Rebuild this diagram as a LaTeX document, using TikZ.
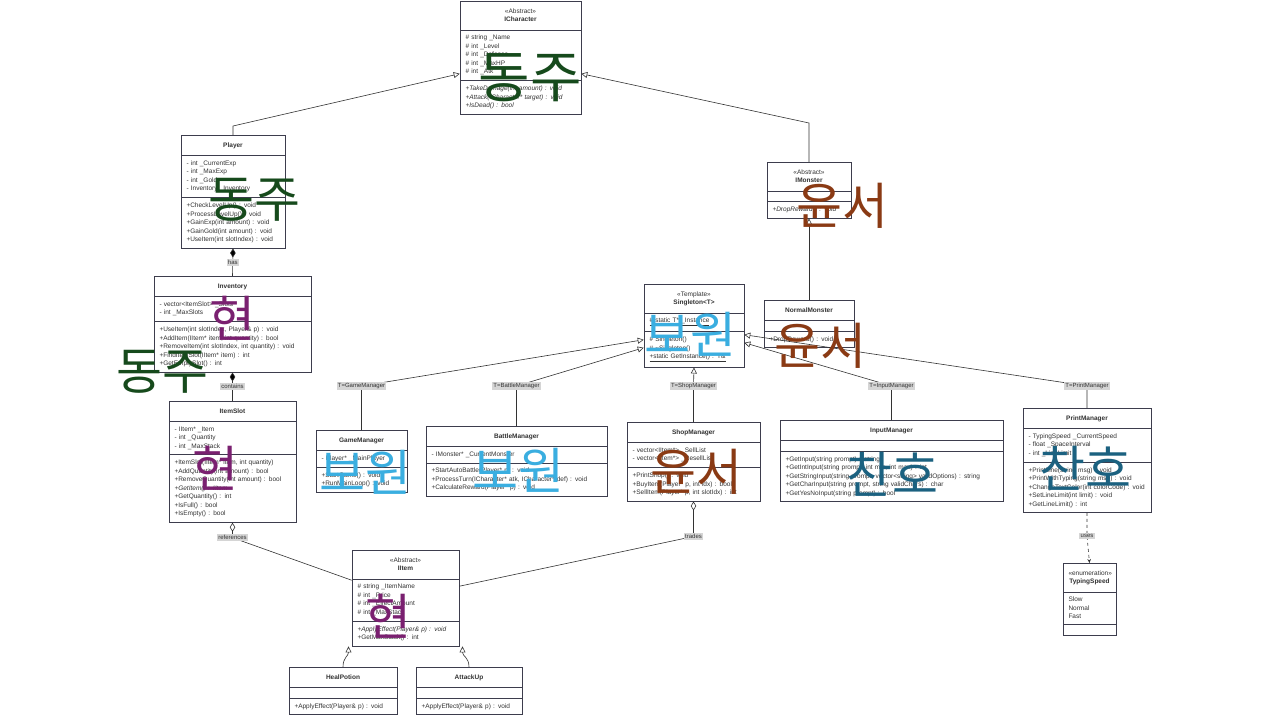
\documentclass[tikz,border=0pt]{standalone}
\usepackage{fontspec}
\setmainfont{Liberation Sans}
\newfontfamily\krfont{Noto Sans CJK KR}
\usetikzlibrary{arrows.meta, shapes.multipart}

\definecolor{boxline}{HTML}{3D3D4D}
\definecolor{edgeline}{HTML}{333333}
\definecolor{labelbg}{HTML}{D5D5D5}
\definecolor{txtcol}{HTML}{333333}
\definecolor{dongju}{HTML}{164A1C}
\definecolor{hyeon}{HTML}{7A2070}
\definecolor{yunseo}{HTML}{8A3A14}
\definecolor{bowon}{HTML}{3AAEE0}
\definecolor{chanho}{HTML}{1B6180}

\newcommand{\clsfont}{\fontsize{6.5}{8.5}\selectfont}
\newcommand{\clsname}[1]{\textbf{#1}\rule[-3pt]{0pt}{9.5pt}\par}
\newcommand{\stype}[1]{\rule{0pt}{6.5pt}«#1»}

\begin{document}
\begin{tikzpicture}[x=1pt, y=-1pt,
  cls/.style={draw=boxline, fill=white, line width=0.6pt, rectangle split,
    rectangle split parts=3, inner xsep=5.5pt, inner ysep=5pt,
    font=\clsfont, text=txtcol, anchor=north},
  elabel/.style={fill=labelbg, text=txtcol, inner sep=1.2pt,
    font=\fontsize{6}{7}\selectfont},
  link/.style={draw=edgeline, line width=0.6pt},
  inherit/.style={link, -{Triangle[open, length=6pt, width=6pt]}},
  comp/.style={link, {Diamond[length=9pt, width=5.5pt]}-},
  aggr/.style={link, {Diamond[open, length=9pt, width=5.5pt]}-},
  uses/.style={link, dashed, -{Stealth[length=4pt, width=3.5pt]}},
  korean/.style={font=\krfont\fontsize{50}{50}\selectfont, inner sep=0pt}]
  \fill[white] (0,0) rectangle (1280,717);
  \useasboundingbox (0,0) rectangle (1280,717);

  % classes
  \node[cls, text width=110pt] (icharacter) at (520.5,1)
    {\centering\stype{Abstract}\\\clsname{ICharacter}
     \nodepart{two}\# string \_Name\\\# int \_Level\\\# int \_Defense\\\# int \_MaxHP\\\# int \_Atk
     \nodepart{three}\textit{+TakeDamage(int amount) : void}\\\textit{+Attack(ICharacter* target) : void}\\\textit{+IsDead() : bool}};
  \node[cls, text width=93pt] (player) at (233,135)
    {\centering\clsname{Player}
     \nodepart{two}- int \_CurrentExp\\- int \_MaxExp\\- int \_Gold\\- Inventory \_Inventory
     \nodepart{three}+CheckLevelUp() : void\\+ProcessLevelUp() : void\\+GainExp(int amount) : void\\+GainGold(int amount) : void\\+UseItem(int slotIndex) : void};
  \node[cls, text width=146pt] (inventory) at (232.5,276)
    {\centering\clsname{Inventory}
     \nodepart{two}- vector<ItemSlot> \_Slots\\- int \_MaxSlots
     \nodepart{three}+UseItem(int slotIndex, Player\& p) : void\\+AddItem(IItem* item, int quantity) : bool\\+RemoveItem(int slotIndex, int quantity) : void\\+FindItemSlot(IItem* item) : int\\+GetEmptySlot() : int};
  \node[cls, text width=116pt] (itemslot) at (232.5,401)
    {\centering\clsname{ItemSlot}
     \nodepart{two}- IItem* \_Item\\- int \_Quantity\\- int \_MaxStack
     \nodepart{three}+ItemSlot(IItem* item, int quantity)\\+AddQuantity(int amount) : bool\\+RemoveQuantity(int amount) : bool\\\textit{+GetItem() : IItem}\\+GetQuantity() : int\\+IsFull() : bool\\+IsEmpty() : bool};
  \node[cls, text width=96pt] (iitem) at (405.5,550)
    {\centering\stype{Abstract}\\\clsname{IItem}
     \nodepart{two}\# string \_ItemName\\\# int \_Price\\\# int \_EffectAmount\\\# int \_MaxStack
     \nodepart{three}\textit{+ApplyEffect(Player\& p) : void}\\+GetMaxStack() : int};
  \node[cls, text width=97pt] (healpotion) at (343,667)
    {\centering\clsname{HealPotion}
     \nodepart{two}
     \nodepart{three}+ApplyEffect(Player\& p) : void};
  \node[cls, text width=95pt] (attackup) at (469,667)
    {\centering\clsname{AttackUp}
     \nodepart{two}
     \nodepart{three}+ApplyEffect(Player\& p) : void};
  \node[cls, text width=73pt] (imonster) at (809,162)
    {\centering\stype{Abstract}\\\clsname{IMonster}
     \nodepart{two}
     \nodepart{three}\textit{+DropReward() : void}};
  \node[cls, text width=79pt] (normalmonster) at (809,300)
    {\centering\clsname{NormalMonster}
     \nodepart{two}
     \nodepart{three}+DropReward() : void};
  \node[cls, text width=89pt] (singleton) at (694,284)
    {\centering\stype{Template}\\\clsname{Singleton<T>}
     \nodepart{two}\underline{\# static T* \_Instance}
     \nodepart{three}\# Singleton()\\\# \textasciitilde Singleton()\\\underline{+static GetInstance() : T\&}};
  \node[cls, text width=80pt] (gamemanager) at (361.5,430)
    {\centering\clsname{GameManager}
     \nodepart{two}- Player* \_MainPlayer
     \nodepart{three}+StartGame() : void\\+RunMainLoop() : void};
  \node[cls, text width=170pt] (battlemanager) at (516.5,426)
    {\centering\clsname{BattleManager}
     \nodepart{two}- IMonster* \_CurrentMonster
     \nodepart{three}+StartAutoBattle(Player* p) : void\\+ProcessTurn(ICharacter* atk, ICharacter* def) : void\\+CalculateReward(Player* p) : void};
  \node[cls, text width=122pt] (shopmanager) at (693.5,422)
    {\centering\clsname{ShopManager}
     \nodepart{two}- vector<IItem*> \_SellList\\- vector<IItem*> \_ResellList
     \nodepart{three}+PrintShop() : void\\+BuyItem(Player* p, int idx) : bool\\+SellItem(Player* p, int slotIdx) : int};
  \node[cls, text width=212pt] (inputmanager) at (891.5,420)
    {\centering\clsname{InputManager}
     \nodepart{two}
     \nodepart{three}+GetInput(string prompt) : string\\+GetIntInput(string prompt, int min, int max) : int\\+GetStringInput(string prompt, vector<string> validOptions) : string\\+GetCharInput(string prompt, string validChars) : char\\+GetYesNoInput(string prompt) : bool};
  \node[cls, text width=117pt] (printmanager) at (1087,408)
    {\centering\clsname{PrintManager}
     \nodepart{two}- TypingSpeed \_CurrentSpeed\\- float \_SpaceInterval\\- int \_LineLimit
     \nodepart{three}+PrintLine(string msg) : void\\+PrintWithTyping(string msg) : void\\+ChangeTextColor(int colorCode) : void\\+SetLineLimit(int limit) : void\\+GetLineLimit() : int};
  \node[cls, text width=42pt] (typingspeed) at (1089.5,563)
    {\centering\stype{enumeration}\\\clsname{TypingSpeed}
     \nodepart{two}Slow\\Normal\\Fast
     \nodepart{three}};

  % relations
  \draw[inherit] (player.north) -- ++(0,-9) -- ([yshift=-16pt]icharacter.west);
  \draw[inherit] (imonster.north) -- ++(0,-39) -- ([yshift=-16pt]icharacter.east);
  \draw[inherit] (normalmonster.north) -- (imonster.south);
  \draw[comp] (player.south) -- (inventory.north) node[midway, elabel] (lblhas) {has};
  \draw[comp] (inventory.south) -- (itemslot.north) node[midway, elabel] (lblcontains) {contains};
  \draw[aggr] (itemslot.south) -- ++(0,15) node[elabel] (lblrefs) {references} -- ([yshift=18pt]iitem.west);
  \draw[aggr] (shopmanager.south) -- ++(0,35) node[elabel] (lbltrades) {trades} -- ([yshift=12pt]iitem.east);
  \draw[inherit] (healpotion.north) .. controls +(0,-10) and +(0,10) .. ([xshift=-57pt]iitem.south);
  \draw[inherit] (attackup.north) .. controls +(0,-10) and +(0,10) .. ([xshift=57pt]iitem.south);
  \draw[inherit] (gamemanager.north) -- ++(0,-44) node[elabel] (lblgame) {T=GameManager} -- ([yshift=-14pt]singleton.west);
  \draw[inherit] (battlemanager.north) -- ++(0,-40) node[elabel] (lblbattle) {T=BattleManager} -- ([yshift=-22pt]singleton.west);
  \draw[inherit] (shopmanager.north) -- ++(0,-36) node[elabel] (lblshop) {T=ShopManager} -- (singleton.south);
  \draw[inherit] (inputmanager.north) -- ++(0,-34) node[elabel] (lblinput) {T=InputManager} -- ([yshift=-17pt]singleton.east);
  \draw[inherit] (printmanager.north) -- ++(0,-22) node[elabel] (lblprint) {T=PrintManager} -- ([yshift=-9pt]singleton.east);
  \draw[uses] (printmanager.south) -- ++(0,23) node[elabel] (lbluses) {uses} -- (typingspeed.north);

  % names written over the diagram
  \node[korean, text=dongju, font=\krfont\fontsize{56}{56}\selectfont] (dongjuA) at (530,78) {동주};
  \node[korean, text=dongju] (dongjuB) at (254,200) {동주};
  \node[korean, text=hyeon] (hyeonA) at (232,318) {현};
  \node[korean, text=dongju] (dongjuC) at (162,372) {동주};
  \node[korean, text=hyeon] (hyeonB) at (215,468) {현};
  \node[korean, text=hyeon] (hyeonC) at (388,616) {현};
  \node[korean, text=yunseo] (yunseoA) at (842,206) {윤서};
  \node[korean, text=yunseo] (yunseoB) at (820,346) {윤서};
  \node[korean, text=yunseo] (yunseoC) at (696,472) {윤서};
  \node[korean, text=bowon] (bowonA) at (690,334) {보원};
  \node[korean, text=bowon] (bowonB) at (365,472) {보원};
  \node[korean, text=bowon] (bowonC) at (518,470) {보원};
  \node[korean, text=chanho] (chanhoA) at (892,474) {찬호};
  \node[korean, text=chanho] (chanhoB) at (1085,468) {찬호};
\end{tikzpicture}
\end{document}
